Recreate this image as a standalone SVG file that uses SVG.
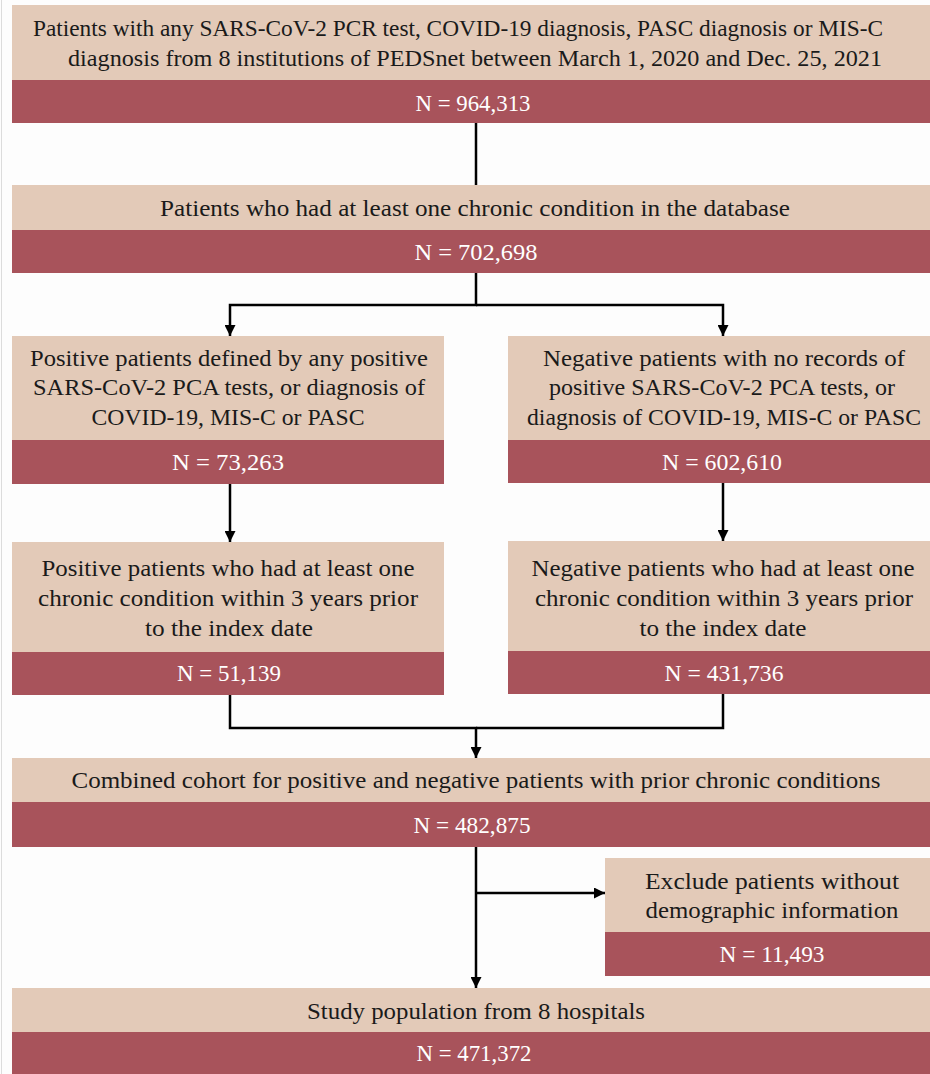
<svg xmlns="http://www.w3.org/2000/svg" width="930" height="1074" viewBox="0 0 930 1074">
<style>
.bg{fill:#fdfdfd}
.tan{fill:#e3cab8}
.red{fill:#a8535b}
.t{font-family:"Liberation Serif","Times New Roman",serif;font-size:24px;fill:#1a1a1a;text-anchor:middle}
.n{font-family:"Liberation Serif","Times New Roman",serif;font-size:24px;fill:#ffffff;text-anchor:middle}
.ln{fill:none;stroke:#000;stroke-width:2.5}
</style>
<defs>
<marker id="ah" viewBox="0 0 10 10" refX="10" refY="5" markerWidth="4.4" markerHeight="4.4" orient="auto" markerUnits="strokeWidth">
<path d="M0,0 L10,5 L0,10 z" fill="#000"/>
</marker>
</defs>
<rect class="bg" x="0" y="0" width="930" height="1074"/>
<line x1="1.5" y1="0" x2="1.5" y2="1074" stroke="#dcdcdc" stroke-width="1"/>

<g id="connectors">
<line class="ln" x1="476" y1="123" x2="476" y2="185"/>
<polyline class="ln" points="476,273 476,305 230,305 230,336" marker-end="url(#ah)"/>
<polyline class="ln" points="476,305 723,305 723,336" marker-end="url(#ah)"/>
<line class="ln" x1="230" y1="484" x2="230" y2="542" marker-end="url(#ah)"/>
<line class="ln" x1="723" y1="483" x2="723" y2="541" marker-end="url(#ah)"/>
<polyline class="ln" points="230,695 230,728 476,728 476,758" marker-end="url(#ah)"/>
<polyline class="ln" points="723,694 723,728 476,728"/>
<line class="ln" x1="476" y1="847" x2="476" y2="988" marker-end="url(#ah)"/>
<line class="ln" x1="476" y1="893" x2="605" y2="893" marker-end="url(#ah)"/>
</g>

<g id="n1">
<rect class="tan" x="12" y="5" width="930" height="75"/>
<rect class="red" x="12" y="80" width="930" height="43"/>
<text class="t" x="458" y="36" textLength="850" lengthAdjust="spacingAndGlyphs">Patients with any SARS-CoV-2 PCR test, COVID-19 diagnosis, PASC diagnosis or MIS-C</text>
<text class="t" x="475" y="66" textLength="814" lengthAdjust="spacingAndGlyphs">diagnosis from 8 institutions of PEDSnet between March 1, 2020 and Dec. 25, 2021</text>
<text class="n" x="473" y="111" textLength="115" lengthAdjust="spacingAndGlyphs">N = 964,313</text>
</g>

<g id="n2">
<rect class="tan" x="12" y="185" width="930" height="45"/>
<rect class="red" x="12" y="230" width="930" height="43"/>
<text class="t" x="475" y="216" textLength="630" lengthAdjust="spacingAndGlyphs">Patients who had at least one chronic condition in the database</text>
<text class="n" x="476" y="260" textLength="123" lengthAdjust="spacingAndGlyphs">N = 702,698</text>
</g>

<g id="n3">
<rect class="tan" x="12" y="336" width="432" height="104"/>
<rect class="red" x="12" y="440" width="432" height="44"/>
<text class="t" x="229" y="366" textLength="398" lengthAdjust="spacingAndGlyphs">Positive patients defined by any positive</text>
<text class="t" x="229" y="395" textLength="392" lengthAdjust="spacingAndGlyphs">SARS-CoV-2 PCA tests, or diagnosis of</text>
<text class="t" x="228" y="425" textLength="273" lengthAdjust="spacingAndGlyphs">COVID-19, MIS-C or PASC</text>
<text class="n" x="228" y="470" textLength="112" lengthAdjust="spacingAndGlyphs">N = 73,263</text>
</g>

<g id="n4">
<rect class="tan" x="508" y="336" width="430" height="104"/>
<rect class="red" x="508" y="440" width="430" height="43"/>
<text class="t" x="724" y="366" textLength="362" lengthAdjust="spacingAndGlyphs">Negative patients with no records of</text>
<text class="t" x="722" y="395" textLength="346" lengthAdjust="spacingAndGlyphs">positive SARS-CoV-2 PCA tests, or</text>
<text class="t" x="724" y="425" textLength="394" lengthAdjust="spacingAndGlyphs">diagnosis of COVID-19, MIS-C or PASC</text>
<text class="n" x="722" y="470" textLength="120" lengthAdjust="spacingAndGlyphs">N = 602,610</text>
</g>

<g id="n5">
<rect class="tan" x="12" y="542" width="432" height="110"/>
<rect class="red" x="12" y="652" width="432" height="43"/>
<text class="t" x="228" y="576" textLength="373" lengthAdjust="spacingAndGlyphs">Positive patients who had at least one</text>
<text class="t" x="228" y="606" textLength="380" lengthAdjust="spacingAndGlyphs">chronic condition within 3 years prior</text>
<text class="t" x="229" y="636" textLength="168" lengthAdjust="spacingAndGlyphs">to the index date</text>
<text class="n" x="229" y="681" textLength="104" lengthAdjust="spacingAndGlyphs">N = 51,139</text>
</g>

<g id="n6">
<rect class="tan" x="508" y="541" width="430" height="110"/>
<rect class="red" x="508" y="651" width="430" height="43"/>
<text class="t" x="723" y="576" textLength="383" lengthAdjust="spacingAndGlyphs">Negative patients who had at least one</text>
<text class="t" x="724" y="606" textLength="378" lengthAdjust="spacingAndGlyphs">chronic condition within 3 years prior</text>
<text class="t" x="723" y="636" textLength="167" lengthAdjust="spacingAndGlyphs">to the index date</text>
<text class="n" x="724" y="681" textLength="119" lengthAdjust="spacingAndGlyphs">N = 431,736</text>
</g>

<g id="n7">
<rect class="tan" x="12" y="758" width="930" height="44"/>
<rect class="red" x="12" y="802" width="930" height="45"/>
<text class="t" x="476" y="788" textLength="809" lengthAdjust="spacingAndGlyphs">Combined cohort for positive and negative patients with prior chronic conditions</text>
<text class="n" x="472" y="833" textLength="117" lengthAdjust="spacingAndGlyphs">N = 482,875</text>
</g>

<g id="n8">
<rect class="tan" x="605" y="858" width="330" height="74"/>
<rect class="red" x="605" y="932" width="330" height="44"/>
<text class="t" x="772" y="889" textLength="254" lengthAdjust="spacingAndGlyphs">Exclude patients without</text>
<text class="t" x="772" y="918" textLength="253" lengthAdjust="spacingAndGlyphs">demographic information</text>
<text class="n" x="772" y="962" textLength="105" lengthAdjust="spacingAndGlyphs">N = 11,493</text>
</g>

<g id="n9">
<rect class="tan" x="12" y="988" width="930" height="44"/>
<rect class="red" x="12" y="1032" width="930" height="42"/>
<text class="t" x="476" y="1019" textLength="338" lengthAdjust="spacingAndGlyphs">Study population from 8 hospitals</text>
<text class="n" x="474" y="1061" textLength="115" lengthAdjust="spacingAndGlyphs">N = 471,372</text>
</g>
</svg>
